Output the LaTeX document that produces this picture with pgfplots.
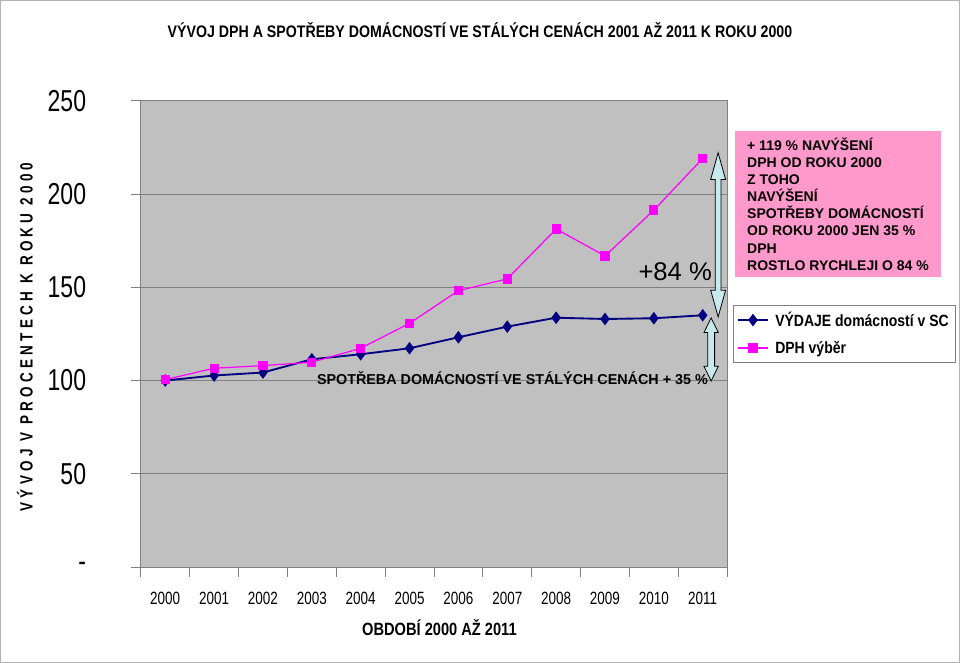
\documentclass[border=0pt]{standalone}
\usepackage{fontspec}
\setmainfont{Liberation Sans}
\newfontfamily\narrow[FakeStretch=0.76]{Liberation Sans}
\newfontfamily\titlefont[FakeStretch=0.85]{Liberation Sans}
\newfontfamily\xlabfont[FakeStretch=0.825]{Liberation Sans}
\newfontfamily\legfont[FakeStretch=0.86]{Liberation Sans}
\newfontfamily\spaced[FakeStretch=0.76,LetterSpace=24]{Liberation Sans}
\usepackage{pgfplots}
\pgfplotsset{compat=1.18}
\definecolor{plotgray}{RGB}{192,192,192}
\definecolor{gridgray}{RGB}{128,128,128}
\definecolor{navyc}{RGB}{0,0,128}
\definecolor{magc}{RGB}{255,0,255}
\definecolor{boxpink}{RGB}{255,153,204}
\definecolor{arrowcyan}{RGB}{200,234,238}
\begin{document}
\begin{tikzpicture}
\draw[gray!60, fill=white] (0.4pt,-0.4pt) rectangle (719.6pt,-496.85pt);
\begin{axis}[
  at={(105.75pt,-425.25pt)}, anchor=south west,
  scale only axis, width=439.5pt, height=349.5pt,
  xmin=-0.5, xmax=11.5, ymin=0, ymax=250,
  clip=false,
  axis background/.style={fill=plotgray},
  axis line style={gridgray, line width=0.7pt},
  xtick={-0.5,0.5,...,11.5},
  x tick label as interval,
  xticklabels={2000,2001,2002,2003,2004,2005,2006,2007,2008,2009,2010,2011},
  ytick={0,50,100,150,200,250},
  yticklabels={-,50,100,150,200,250},
  xtick pos=left, ytick pos=left,
  tick align=outside, major tick length=7.5pt,
  tick style={gridgray, line width=0.6pt},
  ymajorgrids, grid style={gridgray, line width=0.6pt},
  yticklabel style={font=\narrow\fontsize{22.7}{24}\selectfont, xshift=-30pt},
  xticklabel style={font=\narrow\fontsize{13.3}{15}\selectfont, yshift=-7.5pt},
  legend style={at={(1.0102,0.5622)}, anchor=north west, draw=gridgray,
    font=\legfont\bfseries\fontsize{12.2}{14}\selectfont, row sep=5.5pt,
    inner xsep=3pt, inner ysep=3pt,
    /tikz/every odd column/.append style={column sep=3pt}},
  legend cell align=left,
  legend image code/.code={\draw[mark repeat=2,mark phase=2,#1] plot coordinates {(0pt,0pt)(11pt,0pt)(22pt,0pt)};},
]
\addplot[navyc, line width=1.4pt, mark=diamond*, mark size=3.6pt, mark options={solid}]
  coordinates {(0,100)(1,102.7)(2,104.3)(3,111.4)(4,114.1)(5,117.3)(6,123.2)(7,128.9)(8,133.7)(9,133.0)(10,133.4)(11,135.0)};
\addlegendentry{VÝDAJE domácností v SC}
\addplot[magc, line width=0.9pt, mark=square*, mark size=3pt, mark options={solid}]
  coordinates {(0,100.5)(1,106.6)(2,108.0)(3,109.8)(4,117.3)(5,130.7)(6,148.2)(7,154.5)(8,181.3)(9,166.8)(10,191.4)(11,219.1)};
\addlegendentry{DPH výběr}
\end{axis}
% arrows
\draw[black, line width=0.6pt, fill=arrowcyan]
  (538.5pt,-114.75pt) -- (544.1pt,-134.75pt) -- (540.6pt,-134.75pt) -- (540.6pt,-217.75pt)
  -- (544.1pt,-217.75pt) -- (538.5pt,-237.75pt) -- (532.9pt,-217.75pt) -- (536.4pt,-217.75pt)
  -- (536.4pt,-134.75pt) -- (532.9pt,-134.75pt) -- cycle;
\draw[black, line width=0.6pt, fill=arrowcyan]
  (533.25pt,-238.5pt) -- (538.65pt,-249.5pt) -- (535.85pt,-249.5pt) -- (535.85pt,-274.75pt)
  -- (538.65pt,-274.75pt) -- (533.25pt,-285.75pt) -- (527.85pt,-274.75pt) -- (530.65pt,-274.75pt)
  -- (530.65pt,-249.5pt) -- (527.85pt,-249.5pt) -- cycle;
\node[anchor=east, font=\fontsize{19.2}{22}\selectfont, inner sep=0pt] at (534pt,-204pt) {+84 \%};
\node[anchor=east, font=\bfseries\fontsize{10.75}{12}\selectfont, inner sep=0pt] at (531pt,-283.5pt) {SPOTŘEBA DOMÁCNOSTÍ VE STÁLÝCH CENÁCH + 35 \%};
% pink box
\node[anchor=north west, fill=boxpink, minimum width=153.75pt, minimum height=109.5pt,
  align=left, inner xsep=8.5pt, inner ysep=5pt,
  font=\bfseries\fontsize{10.5}{12.8}\selectfont] at (551.25pt,-98.25pt)
  {+ 119 \% NAVÝŠENÍ\\ DPH OD ROKU 2000\\ Z TOHO\\ NAVÝŠENÍ\\ SPOTŘEBY DOMÁCNOSTÍ\\ OD ROKU 2000 JEN 35 \%\\ DPH\\ ROSTLO RYCHLEJI O 84 \%};
% titles
\node[font=\titlefont\bfseries\fontsize{12.5}{14}\selectfont] at (360pt,-22.5pt)
  {VÝVOJ DPH A SPOTŘEBY DOMÁCNOSTÍ VE STÁLÝCH CENÁCH 2001 AŽ 2011 K ROKU 2000};
\node[font=\xlabfont\bfseries\fontsize{13.3}{15}\selectfont] at (329.6pt,-471pt) {OBDOBÍ 2000 AŽ 2011};
\node[rotate=90, font=\spaced\bfseries\fontsize{13.3}{15}\selectfont] at (18.75pt,-252.75pt)
  {VÝVOJ V PROCENTECH K ROKU 2000};
\end{tikzpicture}
\end{document}
